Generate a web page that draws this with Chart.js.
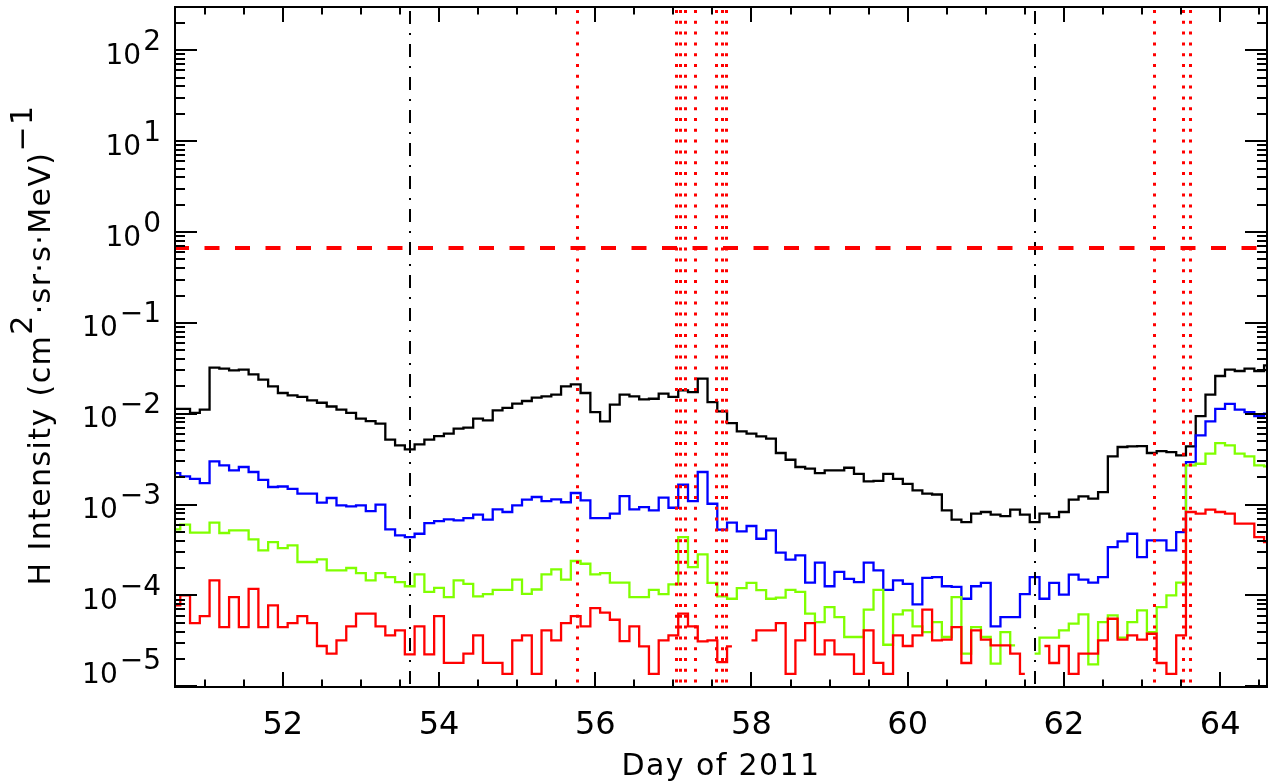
<!DOCTYPE html>
<html><head><meta charset="utf-8">
<script src="https://cdn.jsdelivr.net/npm/chart.js@4.4.1/dist/chart.umd.min.js"></script>
<style>html,body{margin:0;padding:0;background:#fff;}canvas{display:block;}</style>
</head><body>
<canvas id="c" width="1273" height="784"></canvas>
<script>
// ---- axis ranges / ticks ----
const X_MIN = 50.62, X_MAX = 64.60;
const Y_MIN = 9.8e-6, Y_MAX = 300;
const xTickLabels = [52, 54, 56, 58, 60, 62, 64];
const yTickExponents = [-5, -4, -3, -2, -1, 0, 1, 2];

// ---- time grid: 3-hour bins, first bin centre at day 50.625 ----
const BIN_START = 50.625, BIN_WIDTH = 0.125, N_BINS = 113;
const days = [];
for (let i = 0; i < N_BINS; i++) days.push(BIN_START + BIN_WIDTH * i);

// ---- reference lines ----
const shockDays = [53.63, 61.625];                 // black dash-dot
const eventDays = [55.765, 57.03, 57.09, 57.15, 57.28, 57.55, 57.62, 57.68, 63.15, 63.53, 63.62]; // red dotted
const thresholdLevel = 0.66;                       // red dashed horizontal

// ---- series ----
const black = [
0.0113,0.0113,0.0102,0.0111,0.0321,0.0313,0.0300,0.0305,0.0271,0.0237,
0.0200,0.0169,0.0159,0.0153,0.0140,0.0132,0.0120,0.0111,0.0102,0.00881,
0.00830,0.00776,0.00518,0.00448,0.00405,0.00460,0.00518,0.00567,0.00602,0.00684,
0.00701,0.00881,0.00844,0.0109,0.0116,0.0129,0.0138,0.0150,0.0155,0.0162,
0.0200,0.0210,0.0169,0.0104,0.00823,0.0126,0.0162,0.0155,0.0144,0.0146,
0.0166,0.0153,0.0181,0.0173,0.0243,0.0134,0.0106,0.00789,0.00639,0.00602,
0.00562,0.00531,0.00369,0.00311,0.00259,0.00248,0.00222,0.00238,0.00238,0.00254,
0.00218,0.00180,0.00182,0.00218,0.00192,0.00169,0.00143,0.00132,0.00129,0.000863,
0.000681,0.000641,0.000793,0.000827,0.000773,0.000747,0.000877,0.000773,0.000641,0.000793,
0.000728,0.000827,0.00113,0.00123,0.00116,0.00137,0.00339,0.00430,0.00437,0.00440,
0.00369,0.00388,0.00378,0.00348,0.00437,0.00942,0.0162,0.0260,0.0305,0.0295,
0.0313,0.0295,0.0340
];
const blue = [
0.00222,0.00204,0.00192,0.00172,0.00298,0.00270,0.00238,0.00259,0.00228,0.00187,
0.00156,0.00158,0.00149,0.00132,0.00132,0.00105,0.00118,0.000979,0.000955,0.000979,
0.000848,0.00100,0.000533,0.000457,0.000438,0.000477,0.000625,0.000658,0.000686,0.000669,
0.000710,0.000773,0.000681,0.000885,0.000827,0.000979,0.00113,0.00121,0.00109,0.00114,
0.00106,0.00134,0.00111,0.000710,0.000710,0.000793,0.00124,0.000885,0.000938,0.000863,
0.00119,0.000922,0.00165,0.00109,0.00228,0.00102,0.000528,0.000631,0.000506,0.000580,
0.000420,0.000519,0.000295,0.000247,0.000275,0.000138,0.000229,0.000126,0.000181,0.000152,
0.000140,0.000229,0.000188,0.000115,0.000146,0.000134,0.0000796,0.000156,0.000159,0.000126,
0.000124,0.0000918,0.000126,0.000137,0.0000455,0.0000577,0.0000577,0.000103,0.000159,0.0000918,
0.000137,0.000102,0.000169,0.000149,0.000138,0.000159,0.000340,0.000393,0.000477,0.000264,
0.000403,0.000403,0.000313,0.000498,0.00293,0.00577,0.00823,0.0113,0.0128,0.0111,
0.0104,0.00942,0.0100
];
const green = [
0.000533,0.000600,0.000490,0.000490,0.000631,0.000486,0.000519,0.000519,0.000413,0.000313,
0.000386,0.000332,0.000355,0.000233,0.000233,0.000249,0.000188,0.000188,0.000200,0.000176,
0.000146,0.000176,0.000159,0.000140,0.000126,0.000170,0.000109,0.000121,0.0000958,0.000146,
0.000134,0.0000975,0.000103,0.000115,0.000115,0.000149,0.000104,0.000116,0.000170,0.000193,
0.000149,0.000239,0.000223,0.000170,0.000176,0.000138,0.000138,0.0000958,0.0000958,0.000115,
0.000103,0.000132,0.000438,0.000205,0.000282,0.000137,0.0000975,0.0000918,0.000120,0.000137,
0.000114,0.0000918,0.0000942,0.000115,0.000109,0.0000628,0.0000508,0.0000744,0.0000577,0.0000348,
0.0000348,0.0000695,0.000115,0.0000286,0.0000618,0.0000684,0.0000455,0.0000394,0.0000508,0.0000348,
0.0000958,0.0000228,0.0000448,0.0000348,0.0000177,0.0000394,0.0000281,null,0.0000228,0.0000342,
0.0000342,0.0000412,0.0000488,0.0000618,0.0000174,0.0000508,0.0000603,0.0000342,0.0000508,0.0000684,
0.0000394,0.0000744,0.000100,0.000138,0.00270,0.00281,0.00363,0.00475,0.00448,0.00363,
0.00339,0.00270,0.00263
];
const red = [
0.0000776,0.000100,0.0000496,0.0000592,0.000146,0.0000448,0.0000958,0.0000448,0.000118,0.0000448,
0.0000776,0.0000448,0.0000496,0.0000592,0.0000496,0.0000277,0.0000228,0.0000320,0.0000455,0.0000628,
0.0000628,0.0000455,0.0000363,0.0000412,0.0000224,0.0000455,0.0000224,0.0000592,0.0000181,0.0000181,
0.0000228,0.0000363,0.0000181,0.0000181,0.0000137,0.0000320,0.0000363,0.0000137,0.0000412,0.0000320,
0.0000496,0.0000592,0.0000455,0.0000725,0.0000645,0.0000539,0.0000314,0.0000455,0.0000274,0.0000137,
0.0000320,0.0000363,0.0000628,0.0000455,0.0000312,0.0000320,0.0000184,0.0000274,null,0.0000320,
0.0000412,0.0000412,0.0000496,0.0000137,0.0000320,0.0000496,0.0000224,0.0000320,0.0000224,0.0000224,
0.0000137,0.0000412,0.0000181,0.0000137,0.0000363,0.0000277,0.0000363,0.0000695,0.0000320,0.0000325,
0.0000448,0.0000180,0.0000412,0.0000325,0.0000281,0.0000281,0.0000228,0.0000137,null,0.0000277,
0.0000180,0.0000277,0.0000137,0.0000228,0.0000228,0.0000320,0.0000553,0.0000325,0.0000363,0.0000325,
0.0000378,0.0000180,0.0000137,0.0000363,0.000827,0.000793,0.000877,0.000827,0.000793,0.000615,
0.000615,0.000438,0.000386
];

const FONT = '"DejaVu Sans", "Liberation Sans", sans-serif';

function mk(vals, color) {
  return {
    data: days.map((d, i) => ({ x: d, y: vals[i] })),
    borderColor: color, borderWidth: 2.3, stepped: 'middle',
    pointRadius: 0, fill: false, spanGaps: false, tension: 0
  };
}

const drawPlugin = {
  id: 'idlStyle',
  beforeDraw(chart) {
    const ctx = chart.ctx;
    ctx.save(); ctx.fillStyle = '#fff'; ctx.fillRect(0, 0, chart.width, chart.height); ctx.restore();
  },
  afterDatasetsDraw(chart) {
    const { ctx, chartArea: a, scales: { x, y } } = chart;
    ctx.save();
    ctx.beginPath(); ctx.rect(a.left, a.top, a.right - a.left, a.bottom - a.top); ctx.clip();
    // red dotted event lines
    ctx.strokeStyle = '#ff0000'; ctx.lineWidth = 3; ctx.setLineDash([3, 7.8]); ctx.lineCap = 'butt';
    for (const d of eventDays) {
      const px = Math.round(x.getPixelForValue(d)) + 0.5;
      ctx.beginPath(); ctx.moveTo(px, a.top + 3); ctx.lineTo(px, a.bottom); ctx.stroke();
    }
    // black dash-dot lines
    ctx.strokeStyle = '#000'; ctx.lineWidth = 2; ctx.setLineDash([13, 9, 2, 9]);
    for (const d of shockDays) {
      const px = Math.round(x.getPixelForValue(d));
      ctx.beginPath(); ctx.moveTo(px, a.top + 4); ctx.lineTo(px, a.bottom); ctx.stroke();
    }
    // red dashed threshold
    ctx.strokeStyle = '#ff0000'; ctx.lineWidth = 4; ctx.setLineDash([15, 15.5]);
    const py = Math.round(y.getPixelForValue(thresholdLevel));
    ctx.beginPath(); ctx.moveTo(a.left - 1, py); ctx.lineTo(a.right, py); ctx.stroke();
    ctx.restore();
  },
  afterDraw(chart) {
    const { ctx, chartArea: a, scales: { x, y } } = chart;
    ctx.save();
    ctx.strokeStyle = '#000'; ctx.fillStyle = '#000'; ctx.lineWidth = 2; ctx.setLineDash([]);
    ctx.strokeRect(a.left, a.top, a.right - a.left, a.bottom - a.top);
    // y ticks (log, both sides)
    for (let n = -6; n <= 3; n++) {
      for (let m = 1; m <= 9; m++) {
        const v = m * Math.pow(10, n);
        if (v < Y_MIN || v > Y_MAX) continue;
        const py = Math.round(y.getPixelForValue(v));
        const len = m === 1 ? 22 : 10;
        ctx.beginPath();
        ctx.moveTo(a.left, py); ctx.lineTo(a.left + len, py);
        ctx.moveTo(a.right, py); ctx.lineTo(a.right - len, py);
        ctx.stroke();
      }
    }
    // x ticks (major every 2 days, minor every 0.5 day, bottom and top)
    for (let k = Math.ceil(X_MIN * 2); k <= Math.floor(X_MAX * 2); k++) {
      const d = k / 2;
      const px = Math.round(x.getPixelForValue(d));
      const len = (k % 4 === 0) ? 15 : 7.5;
      ctx.beginPath();
      ctx.moveTo(px, a.bottom); ctx.lineTo(px, a.bottom - len);
      ctx.moveTo(px, a.top); ctx.lineTo(px, a.top + len);
      ctx.stroke();
    }
    // x tick labels
    ctx.font = '32px ' + FONT; ctx.textAlign = 'center'; ctx.textBaseline = 'alphabetic';
    for (const d of xTickLabels) ctx.fillText(String(d), x.getPixelForValue(d), 734);
    // y tick labels 10^n
    ctx.font = '28px ' + FONT; ctx.textAlign = 'left';
    for (const n of yTickExponents) {
      const py = y.getPixelForValue(Math.pow(10, n));
      const base = Math.min(py + 13.5, a.bottom - 4);
      const exp = n < 0 ? '\u2212' + Math.abs(n) : String(n);
      const ew = ctx.measureText(exp).width;
      const ex = 161 - ew;
      ctx.fillText(exp, ex, base - 14);
      const bw = ctx.measureText('10').width;
      ctx.fillText('10', ex - 2 - bw, base);
    }
    // x title
    ctx.font = '30px ' + FONT; ctx.textAlign = 'center';
    ctx.letterSpacing = '1.4px';
    ctx.fillText('Day of 2011', (a.left + a.right) / 2, 775);
    // y title (rotated, with superscripts)
    ctx.save();
    ctx.translate(50, 345);
    ctx.rotate(-Math.PI / 2);
    ctx.textAlign = 'left';
    ctx.font = '30px ' + FONT;
    ctx.letterSpacing = '1.4px';
    const parts = [['H Intensity (cm', 0], ['2', -18], ['\u00b7sr\u00b7s\u00b7MeV)', 0], ['\u22121', -18]];
    let total = 0;
    for (const p of parts) total += ctx.measureText(p[0]).width;
    let xx = -total / 2;
    for (const p of parts) { ctx.fillText(p[0], xx, p[1]); xx += ctx.measureText(p[0]).width; }
    ctx.restore();
    ctx.restore();
  }
};

new Chart(document.getElementById('c'), {
  type: 'line',
  data: { datasets: [mk(red, '#ff0000'), mk(green, '#80ff00'), mk(blue, '#0000ff'), mk(black, '#000000')] },
  options: {
    responsive: false, animation: false, devicePixelRatio: 1,
    layout: { padding: { left: 175, right: 6, top: 7, bottom: 97 } },
    plugins: { legend: { display: false }, tooltip: { enabled: false } },
    scales: {
      x: { type: 'linear', min: X_MIN, max: X_MAX, display: false },
      y: { type: 'logarithmic', min: Y_MIN, max: Y_MAX, display: false }
    },
    elements: { point: { radius: 0 } }
  },
  plugins: [drawPlugin]
});
</script>
</body></html>
